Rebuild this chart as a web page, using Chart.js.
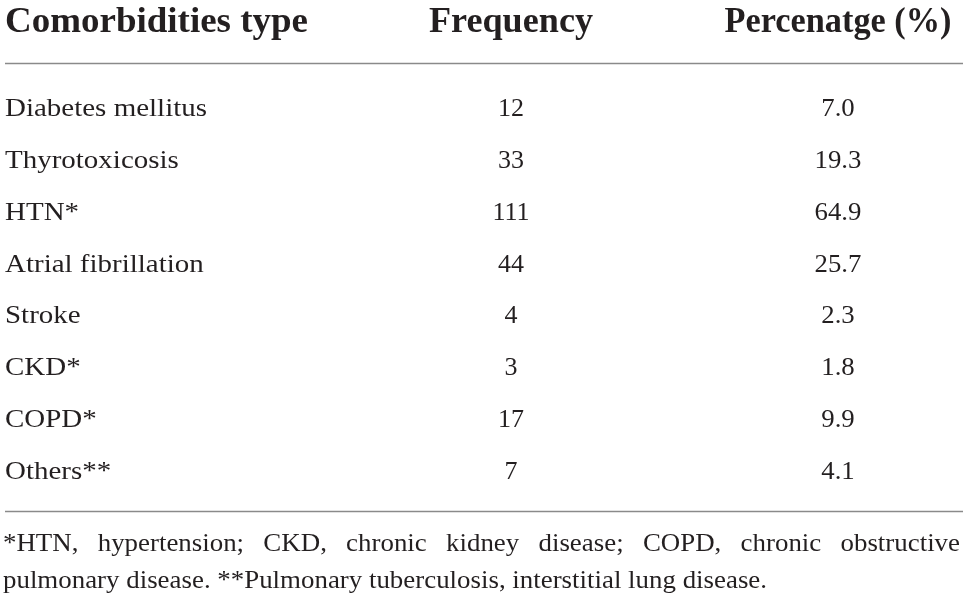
<!DOCTYPE html>
<html>
<head>
<meta charset="utf-8">
<script src="https://cdn.jsdelivr.net/npm/chart.js@4"></script>
<style>
  html, body { margin: 0; padding: 0; background: #fff; }
  canvas { display: block; }
</style>
</head>
<body>
<canvas id="myChart" width="968" height="602"></canvas>
<script>
const headers = ['Comorbidities type', 'Frequency', 'Percenatge (%)'];
const rowLabels = [
    'Diabetes mellitus',
    'Thyrotoxicosis',
    'HTN*',
    'Atrial fibrillation',
    'Stroke',
    'CKD*',
    'COPD*',
    'Others**'
];
const frequency = [12, 33, 111, 44, 4, 3, 17, 7];
const percentage = [7.0, 19.3, 64.9, 25.7, 2.3, 1.8, 9.9, 4.1];
const footnotes = [
    '*HTN, hypertension; CKD, chronic kidney disease; COPD, chronic obstructive',
    'pulmonary disease. **Pulmonary tuberculosis, interstitial lung disease.'
];

const ink = '#231f20';
const rule = '#8a8a8a';
const colX = [5, 511, 838];
const headerWidths = [303, 164, 227];

// draw text with a horizontal stretch so the serif matches the wider original face
function stretchText(ctx, text, x, y, sx, align) {
    const w = ctx.measureText(text).width * sx;
    let left = x;
    if (align === 'center') left = x - w / 2;
    if (align === 'right') left = x - w;
    ctx.save();
    ctx.translate(left, y);
    ctx.scale(sx, 1);
    ctx.fillText(text, 0, 0);
    ctx.restore();
}

const tablePlugin = {
    id: 'tablePlugin',
    afterDatasetsDraw(chart) {
        const ctx = chart.ctx;
        const yScale = chart.scales.y;
        ctx.save();
        ctx.fillStyle = ink;
        ctx.textBaseline = 'alphabetic';

        // header
        ctx.font = 'bold 36px "Liberation Serif"';
        headers.forEach((h, i) => {
            const sx = headerWidths[i] / ctx.measureText(h).width;
            stretchText(ctx, h, colX[i], 32, sx, i === 0 ? 'left' : 'center');
        });

        // rules
        ctx.strokeStyle = rule;
        ctx.lineWidth = 1.3;
        ctx.beginPath();
        ctx.moveTo(5, 63.5); ctx.lineTo(963, 63.5);
        ctx.moveTo(5, 511.5); ctx.lineTo(963, 511.5);
        ctx.stroke();

        // body rows
        ctx.font = '26px "Liberation Serif"';
        const bsx = 202 / ctx.measureText(rowLabels[0]).width;
        rowLabels.forEach((lab, i) => {
            const y = yScale.getPixelForValue(i) + 8;
            stretchText(ctx, lab, colX[0], y, bsx, 'left');
            stretchText(ctx, String(frequency[i]), colX[1], y, 1.0, 'center');
            stretchText(ctx, percentage[i].toFixed(1), colX[2], y, 1.03, 'center');
        });

        // footnote, first line justified
        const fsx = 764 / ctx.measureText(footnotes[1]).width;
        const words = footnotes[0].split(' ');
        const widths = words.map(w => ctx.measureText(w).width * fsx);
        const total = widths.reduce((a, b) => a + b, 0);
        const gap = (960 - 3 - total) / (words.length - 1);
        let x = 3;
        words.forEach((w, i) => {
            stretchText(ctx, w, x, 551, fsx, 'left');
            x += widths[i] + gap;
        });
        stretchText(ctx, footnotes[1], 3, 588, fsx, 'left');
        ctx.restore();
    }
};

const data = {
    labels: rowLabels,
    datasets: [{
        label: 'Frequency',
        data: frequency,
        showLine: false,
        pointRadius: 0
    }]
};

const config = {
    type: 'line',
    data: data,
    options: {
        indexAxis: 'y',
        responsive: false,
        animation: false,
        devicePixelRatio: 1,
        layout: {
            padding: { top: 82, bottom: 105, left: 0, right: 0 }
        },
        scales: {
            y: { type: 'category', offset: true, display: false },
            x: { type: 'linear', min: 0, max: 120, display: false }
        },
        plugins: {
            legend: { display: false },
            tooltip: { enabled: false }
        }
    },
    plugins: [tablePlugin]
};

const myChart = new Chart(
    document.getElementById('myChart'),
    config
);
</script>
</body>
</html>
